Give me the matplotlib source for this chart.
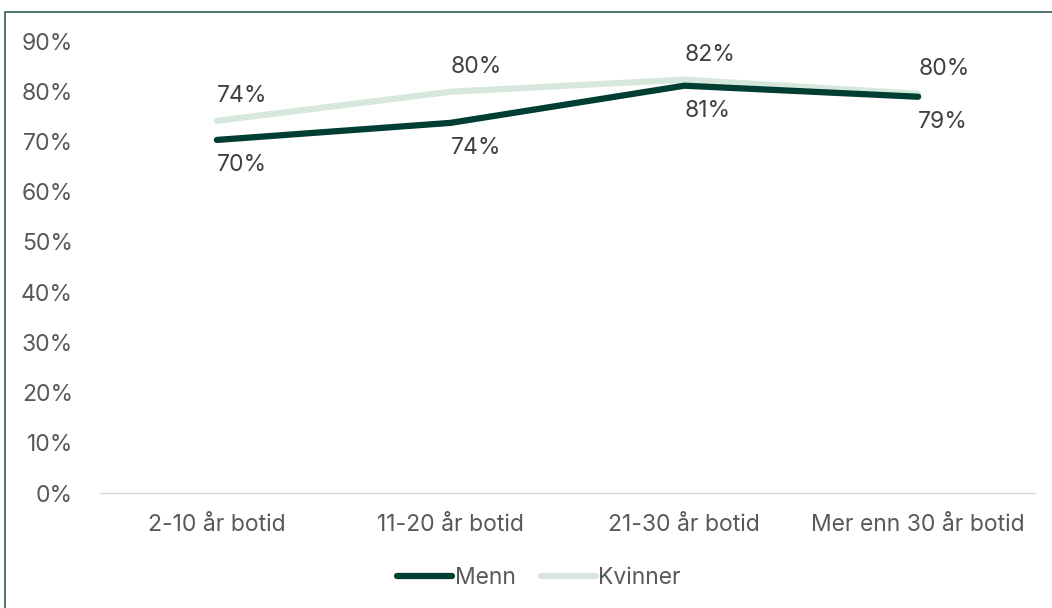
import matplotlib
matplotlib.use("Agg")
import matplotlib.pyplot as plt
from matplotlib.patches import Rectangle

categories = ["2-10 år botid", "11-20 år botid", "21-30 år botid", "Mer enn 30 år botid"]
menn = [70.3, 73.7, 81.1, 78.9]
kvinner = [74.1, 79.9, 82.3, 79.5]
menn_labels = ["70%", "74%", "81%", "79%"]
kvinner_labels = ["74%", "80%", "82%", "80%"]
yticks = [0, 10, 20, 30, 40, 50, 60, 70, 80, 90]

plt.rcParams['font.family'] = ['Inter', 'DejaVu Sans']
W, H = 1052, 608
fig = plt.figure(figsize=(W/100, H/100), dpi=100)
ax = fig.add_axes([100/W, 1-493/H, 935/W, (493-41)/H])

c_menn = "#003d33"
c_kv = "#d6e8dc"
grey = "#595959"
fs = 16.5

x = list(range(len(categories)))
ax.plot(x, kvinner, color=c_kv, lw=4.5, solid_capstyle='round', label="Kvinner", zorder=2)
ax.plot(x, menn, color=c_menn, lw=4.5, solid_capstyle='round', label="Menn", zorder=3)

for i, (m, k) in enumerate(zip(menn, kvinner)):
    ax.annotate(kvinner_labels[i], (i, k), xytext=(0, 18), textcoords='offset points',
                ha='left', va='center', fontsize=fs, color="#404040")
    ax.annotate(menn_labels[i], (i, m), xytext=(0, -18), textcoords='offset points',
                ha='left', va='center', fontsize=fs, color="#404040")

ax.set_xlim(-0.5, 3.5)
ax.set_ylim(0, 90)
ax.set_yticks(yticks)
ax.set_yticklabels([f"{v}%" for v in yticks])
ax.set_xticks(x)
ax.set_xticklabels(categories)
ax.tick_params(axis='both', length=0, labelsize=fs, labelcolor=grey)
ax.tick_params(axis='y', pad=19.5)
ax.tick_params(axis='x', pad=15)
for s in ['top', 'right', 'left']:
    ax.spines[s].set_visible(False)
ax.spines['bottom'].set_color("#d9d9d9")
ax.spines['bottom'].set_linewidth(1)

handles, labels = ax.get_legend_handles_labels()
leg = fig.legend(handles[::-1], labels[::-1], loc='center', bbox_to_anchor=(539/W, 1-578/H),
                 ncol=2, frameon=False, fontsize=fs, handlelength=2.4, handletextpad=0.1,
                 columnspacing=1.1)
for t in leg.get_texts():
    t.set_color(grey)

fig.patches.append(Rectangle((5/W, -0.1), 2, 1.1-12/H, transform=fig.transFigure,
                             fill=False, edgecolor="#2f5f55", lw=1.2))

fig.savefig("out.png", dpi=100)
